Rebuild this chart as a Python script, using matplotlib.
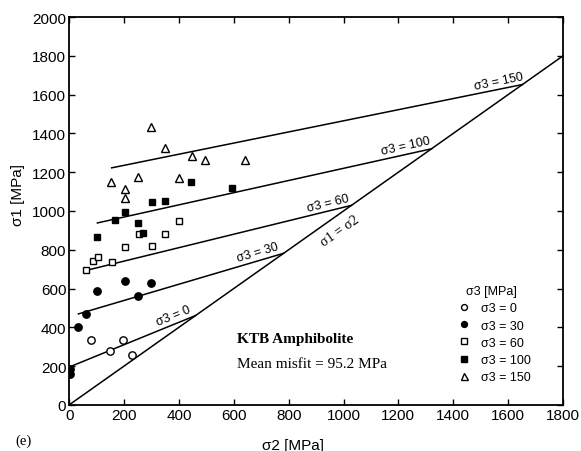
import matplotlib
matplotlib.use("Agg")
import matplotlib.pyplot as plt
import numpy as np

plt.rcParams['font.family'] = ['Liberation Sans', 'DejaVu Sans']

# measured points, sigma2 / sigma1 [MPa]
s3_levels = [0, 30, 60, 100, 150]
x_s0 = [79, 149, 198, 228]
y_s0 = [337, 280, 337, 258]
x_s30 = [4, 4, 32, 61, 103, 204, 252, 297]
y_s30 = [185, 160, 400, 469, 589, 641, 560, 629]
x_s60 = [61, 88, 104, 157, 204, 253, 301, 349, 400]
y_s60 = [696, 744, 761, 736, 813, 881, 821, 881, 948]
x_s100 = [103, 167, 204, 252, 270, 301, 351, 444, 595]
y_s100 = [864, 955, 996, 938, 885, 1045, 1053, 1151, 1117]
x_s150 = [153, 204, 204, 252, 297, 349, 400, 448, 496, 641]
y_s150 = [1151, 1113, 1065, 1174, 1432, 1323, 1168, 1282, 1263, 1261]

# fitted envelopes: sigma1 = a + b*sigma2, drawn from start to sigma1 = sigma2
line_start = [0, 34, 58, 103, 155]
line_a = [195, 455, 672, 906, 1178]
line_b = [0.577, 0.418, 0.347, 0.314, 0.287]
label_x = [389, 695, 949, 1233, 1570]

fig = plt.figure(figsize=(5.81, 4.52), dpi=100)
ax = fig.add_axes([0.119, 0.102, 0.850, 0.858])
ax.set_xlim(0, 1800)
ax.set_ylim(0, 2000)

ax.plot([0, 1800], [0, 1800], color='black', lw=1.1)
for s3, x0, a, b, lx in zip(s3_levels, line_start, line_a, line_b, label_x):
    x1 = a / (1 - b)
    ax.plot([x0, x1], [a + b * x0, a + b * x1], color='black', lw=1.1)
    ax.text(lx, a + b * lx + 12, f"σ3 = {s3}", rotation=np.degrees(np.arctan(b)),
            transform_rotates_text=True, rotation_mode='anchor',
            ha='center', va='bottom', fontsize=9)
ax.text(975, 925, "σ1 = σ2", rotation=45, transform_rotates_text=True,
        rotation_mode='anchor', ha='center', va='top', fontsize=10,
        family=['Liberation Serif'])

ms = 5.3
ax.plot(x_s0, y_s0, 'o', mfc='white', mec='black', ms=ms, mew=1, label='σ3 = 0')
ax.plot(x_s30, y_s30, 'o', mfc='black', mec='black', ms=ms, label='σ3 = 30')
ax.plot(x_s60, y_s60, 's', mfc='white', mec='black', ms=ms - 0.5, mew=1, label='σ3 = 60')
ax.plot(x_s100, y_s100, 's', mfc='black', mec='black', ms=ms - 0.5, label='σ3 = 100')
ax.plot(x_s150, y_s150, '^', mfc='white', mec='black', ms=ms + 1, mew=1, label='σ3 = 150')

leg = ax.legend(loc='upper left', bbox_to_anchor=(0.765, 0.322), frameon=False,
                title='σ3 [MPa]', fontsize=9, title_fontsize=9,
                handletextpad=0.35, labelspacing=0.42, markerscale=0.8,
                borderaxespad=0)

ax.text(611, 340, "KTB Amphibolite", fontsize=11, fontweight='bold',
        family=['Liberation Serif'], va='center')
ax.text(611, 211, "Mean misfit = 95.2 MPa", fontsize=11,
        family=['Liberation Serif'], va='center')

ax.set_xticks(np.arange(0, 1801, 200))
ax.set_yticks(np.arange(0, 2001, 200))
ax.tick_params(direction='in', top=True, right=True, labelsize=11, length=4, width=1, pad=2)
for sp in ax.spines.values():
    sp.set_linewidth(1.3)

ax.set_xlabel("σ2 [MPa]", fontsize=11)
ax.xaxis.set_label_coords(0.453, -0.085)
ax.set_ylabel("σ1 [MPa]", fontsize=11)
ax.yaxis.set_label_coords(-0.09, 0.544)

fig.text(0.026, 0.015, "(e)", fontsize=10.5, family=['Liberation Serif'])

fig.savefig("out.png", dpi=100)
